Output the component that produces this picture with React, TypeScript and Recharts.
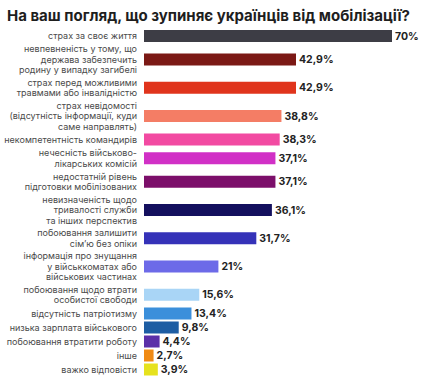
import React from 'react';
import { BarChart, Bar, XAxis, YAxis, Cell, LabelList } from 'recharts';

const categories: string[] = [
  'страх за своє життя',
  'невпевненість у тому, що\nдержава забезпечить\nродину у випадку загибелі',
  'страх перед можливими\nтравмами або інвалідністю',
  'страх невідомості\n(відсутність інформації, куди\nсаме направлять)',
  'некомпетентність командирів',
  'нечесність військово-\nлікарських комісій',
  'недостатній рівень\nпідготовки мобілізованих',
  'невизначеність щодо\nтривалості служби\nта інших перспектив',
  'побоювання залишити\nсім\u2019ю без опіки',
  'інформація про знущання\nу військкоматах або\nвійськових частинах',
  'побоювання щодо втрати\nособистої свободи',
  'відсутність патріотизму',
  'низька зарплата військового',
  'побоювання втратити роботу',
  'інше',
  'важко відповісти',
];

const values: number[] = [70, 42.9, 42.9, 38.8, 38.3, 37.1, 37.1, 36.1, 31.7, 21, 15.6, 13.4, 9.8, 4.4, 2.7, 3.9];

const palette: string[] = [
  '#3d3d45', '#7b1915', '#e0341c', '#f47d65', '#f24aa2', '#d130c6', '#7c0f6a', '#14105e',
  '#3532b8', '#6d6ae8', '#a9d5f6', '#3b8fdb', '#1d5da3', '#5b2fa8', '#f08a14', '#e6e21e',
];

const TITLE = 'На ваш погляд, що зупиняє українців від мобілізації?';

// row slot height grows with the number of label lines
const ROW_BASE = 4.5;
const ROW_PER_LINE = 9.5;

const lineCounts = categories.map((c) => c.split('\n').length);
const rowHeights = lineCounts.map((n) => ROW_BASE + ROW_PER_LINE * n);
const totalHeight = rowHeights.reduce((a, b) => a + b, 0);
const rowCenters: number[] = [];
{
  let acc = 0;
  rowHeights.forEach((h) => {
    rowCenters.push(acc + h / 2);
    acc += h;
  });
}

const data = categories.map((label, i) => ({ label, value: values[i], pos: rowCenters[i] }));

const fmt = (v: any) => String(v).replace('.', ',') + '%';

const FONT = 'Inter, "Noto Sans", sans-serif';

const LeftTick = (props: any) => {
  const { x, y, index } = props;
  const lines = categories[index].split('\n');
  const lh = 10.5;
  const startY = y - ((lines.length - 1) * lh) / 2;
  return (
    <text x={x} y={startY} textAnchor="end" fill="#4a4a4a" fontSize={9} fontFamily={FONT}>
      {lines.map((l, i) => (
        <tspan key={i} x={x} y={startY + i * lh} dy="0.35em">
          {l}
        </tspan>
      ))}
    </text>
  );
};

export default function App() {
  return (
    <div style={{ position: 'absolute', left: 0, top: 0, width: 428, height: 385, background: '#fff' }}>
      <div
        style={{
          position: 'absolute',
          left: 7,
          top: 7,
          fontFamily: FONT,
          fontWeight: 700,
          fontSize: 15,
          color: '#1e1e1e',
          whiteSpace: 'nowrap',
          lineHeight: '18px',
        }}
      >
        {TITLE}
      </div>
      <BarChart
        width={428}
        height={385}
        data={data}
        layout="vertical"
        margin={{ top: 29, right: 36, bottom: 385 - 29 - totalHeight, left: 0 }}
        style={{ position: 'absolute', left: 0, top: 0 }}
      >
        <XAxis type="number" domain={[0, 70]} hide />
        <YAxis
          type="number"
          dataKey="pos"
          domain={[0, totalHeight]}
          ticks={rowCenters}
          interval={0}
          width={144}
          tickLine={false}
          axisLine={false}
          tickSize={0}
          tickMargin={7}
          tick={<LeftTick />}
        />
        <Bar dataKey="value" barSize={12} isAnimationActive={false}>
          {data.map((d, i) => (
            <Cell key={i} fill={palette[i]} />
          ))}
          <LabelList
            dataKey="value"
            position="right"
            offset={3}
            formatter={fmt}
            fill="#232323"
            fontSize={10.5}
            fontWeight={700}
            fontFamily={FONT}
          />
        </Bar>
      </BarChart>
    </div>
  );
}
